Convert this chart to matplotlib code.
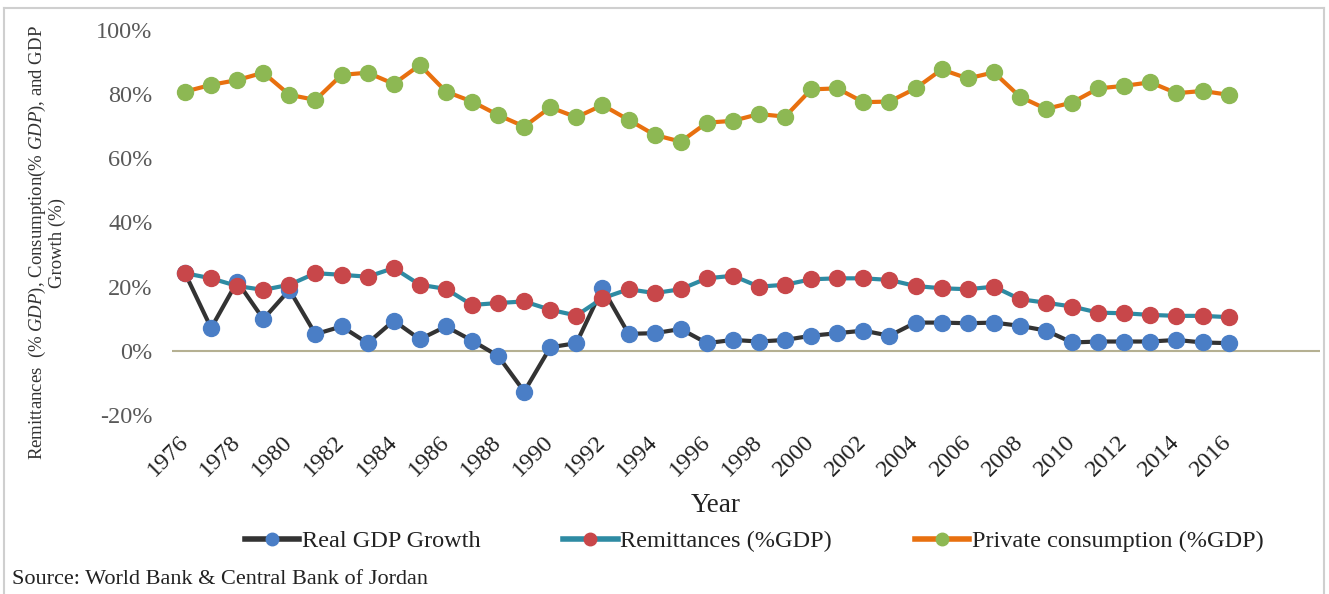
import matplotlib
matplotlib.use("Agg")
import matplotlib.pyplot as plt
from matplotlib.lines import Line2D

years = list(range(1976, 2017))
gdp_growth = [24.2, 7.1, 21.6, 9.9, 19.0, 5.2, 7.6, 2.4, 9.4, 3.6,
              7.6, 3.2, -1.6, -12.7, 1.1, 2.4, 19.5, 5.3, 5.5, 6.8,
              2.4, 3.4, 2.9, 3.4, 4.7, 5.5, 6.3, 4.7, 8.8, 8.8,
              8.6, 8.8, 7.8, 6.3, 2.6, 2.9, 2.9, 2.9, 3.4, 2.6, 2.4]
remittances = [24.2, 22.6, 20.2, 19.0, 20.6, 24.2, 23.7, 23.1, 25.8, 20.6,
               19.3, 14.3, 14.9, 15.4, 12.8, 11.0, 16.4, 19.2, 18.0, 19.2,
               22.6, 23.4, 20.0, 20.6, 22.3, 22.6, 22.6, 22.1, 20.2, 19.5,
               19.2, 20.0, 16.1, 15.0, 13.8, 11.9, 11.7, 11.2, 10.9, 10.9, 10.5]
consumption = [80.8, 82.9, 84.4, 86.7, 79.8, 78.2, 86.0, 86.7, 83.2, 89.1,
               80.8, 77.7, 73.5, 69.9, 75.9, 72.8, 76.6, 72.0, 67.3, 65.2,
               71.1, 71.7, 73.8, 73.0, 81.5, 81.8, 77.5, 77.7, 81.8, 87.7,
               84.9, 86.8, 79.2, 75.4, 77.4, 81.8, 82.6, 83.7, 80.3, 81.0, 79.8]
tick_years = list(range(1976, 2017, 2))
y_ticks = [-20, 0, 20, 40, 60, 80, 100]
series_names = ["Real GDP Growth", "Remittances (%GDP)", "Private consumption (%GDP)"]

plt.rcParams['font.family'] = ['Liberation Serif', 'DejaVu Serif']
plt.rcParams['mathtext.fontset'] = 'custom'
plt.rcParams['mathtext.rm'] = 'Liberation Serif'
plt.rcParams['mathtext.it'] = 'Liberation Serif:italic'

W, H = 1329, 594
fig = plt.figure(figsize=(W / 100, H / 100), dpi=100)
ax = fig.add_axes([172 / W, 1 - 415 / H, (1320 - 172) / W, (415 - 30) / H])

lw = 3.0
ms = 11.5
styles = [
    (gdp_growth, '#333333', '#4A7EC6'),
    (remittances, '#2E8BA3', '#C8474A'),
    (consumption, '#E8700F', '#8DB853'),
]
handles = []
for (vals, lc, mc), name in zip(styles, series_names):
    ax.plot(years, vals, color=lc, lw=lw, marker='o', ms=ms,
            markerfacecolor=mc, markeredgecolor=mc, solid_joinstyle='miter', zorder=3)
    handles.append(Line2D([], [], color=lc, lw=lw + 1, marker='o', ms=9,
                          markerfacecolor=mc, markeredgecolor=mc))

ax.axhline(0, color='#B5B092', lw=1.5, zorder=1)
ax.set_xlim(1975.5, 2019.5)
ax.set_ylim(-20, 100)
for s in ax.spines.values():
    s.set_visible(False)

ax.set_yticks(y_ticks)
ax.set_yticklabels([f"{v}%" for v in y_ticks])
ax.tick_params(axis='y', length=0, pad=14, labelsize=17.5, labelcolor='#595959')

ax.set_xticks(tick_years)
ax.set_xticklabels([str(y) for y in tick_years])
ax.tick_params(axis='x', length=0, pad=17, labelsize=17.5, labelcolor='#222222')
for lab in ax.get_xticklabels():
    lab.set_rotation(45)
    lab.set_ha('right')
    lab.set_va('center')
    lab.set_rotation_mode('anchor')

fig.text(716 / W, 1 - 505 / H, "Year", ha='center', va='center', fontsize=19.5, color='#222222')

fig.text(46 / W, 1 - 243 / H,
         r"Remittances  $\mathit{(\%\ GDP)}$, Consumption$\mathit{(\%\ GDP)}$, and GDP" + "\nGrowth (%)",
         rotation=90, ha='center', va='center', multialignment='center',
         fontsize=13.5, color='#333333', linespacing=1.05)

fig.legend(handles, series_names, loc='center', bbox_to_anchor=(754 / W, 1 - 541 / H),
           ncol=3, frameon=False, fontsize=17.5, handlelength=2.25, handletextpad=0.1,
           columnspacing=3.4, labelcolor='#222222')

fig.text(12 / W, 1 - 580 / H, "Source: World Bank & Central Bank of Jordan",
         ha='left', va='center', fontsize=16, color='#222222')

# outer frame
fc = '#CFCFCF'
fig.add_artist(Line2D([4 / W, 1324 / W], [1 - 8 / H, 1 - 8 / H], color=fc, lw=1.5, transform=fig.transFigure))
fig.add_artist(Line2D([4 / W, 4 / W], [1 - 8 / H, 0], color=fc, lw=1.5, transform=fig.transFigure))
fig.add_artist(Line2D([1324 / W, 1324 / W], [1 - 8 / H, 0], color=fc, lw=1.5, transform=fig.transFigure))

fig.savefig("out.png", dpi=100)
